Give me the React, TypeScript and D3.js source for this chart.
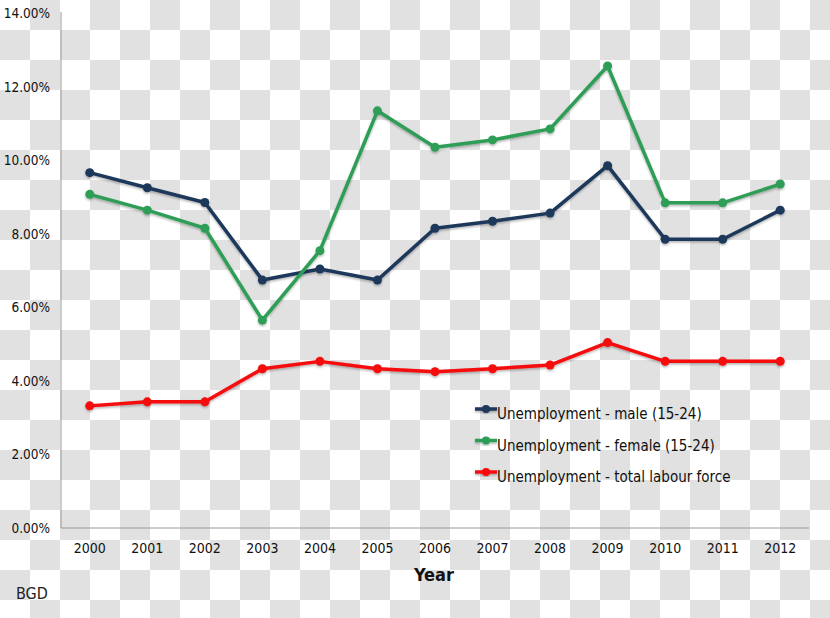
import React from "react";
import * as d3 from "d3";

const years = ["2000","2001","2002","2003","2004","2005","2006","2007","2008","2009","2010","2011","2012"];
const maleValues = [9.66, 9.25, 8.85, 6.74, 7.04, 6.74, 8.15, 8.34, 8.56, 9.85, 7.85, 7.85, 8.64];
const femaleValues = [9.07, 8.64, 8.15, 5.65, 7.54, 11.34, 10.35, 10.55, 10.85, 12.56, 8.84, 8.84, 9.35];
const totalValues = [3.32, 3.43, 3.43, 4.33, 4.53, 4.33, 4.25, 4.33, 4.43, 5.04, 4.53, 4.53, 4.53];
const yTicks = [0, 2, 4, 6, 8, 10, 12, 14];
const seriesNames = [
  "Unemployment - male (15-24)",
  "Unemployment - female (15-24)",
  "Unemployment - total labour force",
];
const seriesColors = ["#1f375a", "#2f9d57", "#f50a0a"];

const W = 830, H = 618;
const M = { left: 61, right: 21, top: 13, bottom: 90 };

export default function App() {
  const x = d3.scaleBand<string>().domain(years).range([M.left, W - M.right]);
  const y = d3.scaleLinear().domain([0, 14]).range([H - M.bottom, M.top]);
  const cx = (yr: string) => (x(yr) as number) + x.bandwidth() / 2;
  const line = d3.line<number>().x((_, i) => cx(years[i])).y((v) => y(v));
  const all = [maleValues, femaleValues, totalValues];
  const font = "'DejaVu Sans Condensed', 'DejaVu Sans', sans-serif";
  return (
    <svg width={W} height={H} style={{ position: "absolute", left: 0, top: 0 }}>
      <defs>
        <pattern id="checker" width={60} height={60} patternUnits="userSpaceOnUse">
          <rect width={60} height={60} fill="#ffffff" />
          <rect x={30} y={0} width={30} height={30} fill="#e1e1e1" />
          <rect x={0} y={30} width={30} height={30} fill="#e1e1e1" />
        </pattern>
        <filter id="sh" x="-10%" y="-10%" width="120%" height="120%">
          <feDropShadow dx={0} dy={1.5} stdDeviation={1.2} floodColor="#000" floodOpacity={0.3} />
        </filter>
      </defs>
      <rect width={W} height={H} fill="url(#checker)" />
      <line x1={M.left} x2={M.left} y1={y(14) - 1} y2={y(0)} stroke="#9a9a9a" strokeWidth={1} />
      <line x1={M.left} x2={W - M.right} y1={y(0)} y2={y(0)} stroke="#9a9a9a" strokeWidth={1} />
      {yTicks.map((t) => (
        <text key={t} x={50} y={y(t) + 5} textAnchor="end" fontFamily={font} fontSize={13.5} fill="#111">
          {t.toFixed(2) + "%"}
        </text>
      ))}
      {years.map((yr) => (
        <text key={yr} x={cx(yr)} y={553} textAnchor="middle" fontFamily={font} fontSize={14} fill="#111">
          {yr}
        </text>
      ))}
      <text x={434} y={581} textAnchor="middle" fontFamily={font} fontSize={18} fontWeight="bold" fill="#111">Year</text>
      <text x={16} y={599} fontFamily={font} fontSize={16} fill="#222">BGD</text>
      {all.map((vals, si) => (
        <g key={si} filter="url(#sh)">
          <path d={line(vals) || ""} fill="none" stroke={seriesColors[si]} strokeWidth={3.5} strokeLinejoin="round" />
          {vals.map((v, i) => (
            <circle key={i} cx={cx(years[i])} cy={y(v)} r={4.5} fill={seriesColors[si]} />
          ))}
        </g>
      ))}
      {seriesNames.map((n, i) => (
        <g key={n} transform={`translate(0, ${409 + i * 31.5})`}>
          <g filter="url(#sh)">
            <line x1={475} x2={497} y1={0} y2={0} stroke={seriesColors[i]} strokeWidth={3.5} />
            <circle cx={486} cy={0} r={4} fill={seriesColors[i]} />
          </g>
          <text x={497} y={10} fontFamily={font} fontSize={15} fill="#111">{n}</text>
        </g>
      ))}
    </svg>
  );
}
